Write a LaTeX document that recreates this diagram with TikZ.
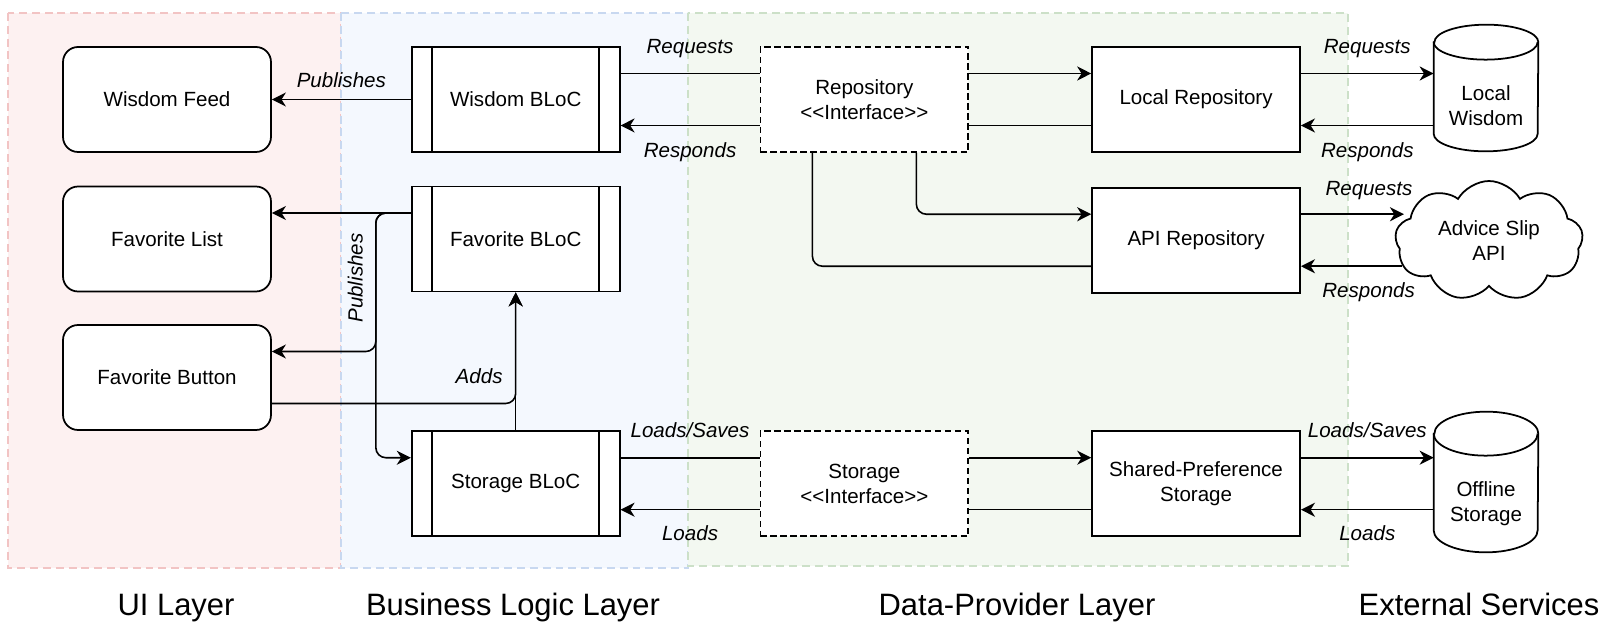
\documentclass[tikz,border=0pt]{standalone}
\usepackage{fontspec}
\setmainfont{Liberation Sans}
\usetikzlibrary{arrows.meta,positioning,shapes.symbols}

\definecolor{uifill}{HTML}{FDF1F1}
\definecolor{uiline}{HTML}{F2C4C4}
\definecolor{blfill}{HTML}{F4F8FE}
\definecolor{blline}{HTML}{C8D8F0}
\definecolor{dpfill}{HTML}{F3F8F1}
\definecolor{dpline}{HTML}{CCE0C8}

\newcommand{\boxfont}{\fontsize{11.7pt}{14.2pt}\selectfont}
\newcommand{\lblfont}{\fontsize{11.7pt}{14.2pt}\selectfont\itshape}
\newcommand{\layerfont}{\fontsize{17.6pt}{21pt}\selectfont}

% cylinder drawn round a (borderless) node: #1 node, #2 half height of the rim
\newcommand{\dbshape}[2]{%
  \draw[line width=1pt] ([yshift=#2]#1.north west) -- ([yshift=#2]#1.south west)
    arc[start angle=180, end angle=360, x radius=1.04cm, y radius=#2]
    -- ([yshift=#2]#1.north east)
    arc[start angle=0, end angle=180, x radius=1.04cm, y radius=#2] -- cycle;
  \draw[line width=1pt] ([yshift=#2]#1.north west)
    arc[start angle=180, end angle=360, x radius=1.04cm, y radius=#2];
}

\begin{document}
\begin{tikzpicture}[x=0.02cm, y=-0.02cm, node distance=2.78cm,
    svcbox/.style={rectangle, draw, line width=1pt, fill=white, minimum width=4.16cm,
      minimum height=2.1cm, align=center, inner sep=2pt, font=\boxfont},
    uinode/.style={svcbox, rounded corners=0.3cm},
    blocnode/.style={svcbox, path picture={
      \draw[line width=1pt] ([xshift=0.41cm]path picture bounding box.north west)
        -- ([xshift=0.41cm]path picture bounding box.south west);
      \draw[line width=1pt] ([xshift=-0.41cm]path picture bounding box.north east)
        -- ([xshift=-0.41cm]path picture bounding box.south east);}},
    ifacenode/.style={svcbox, dash pattern=on 3.5pt off 2.2pt},
    repnode/.style={svcbox},
    dbnode/.style={rectangle, minimum width=2.08cm, inner sep=0pt, align=center, font=\boxfont},
    cloudnode/.style={cloud, draw, line width=1pt, fill=white, cloud puffs=9, cloud puff arc=120,
      aspect=1.5, minimum width=3.76cm, minimum height=2.4cm, inner sep=0pt, align=center, font=\boxfont},
    lbl/.style={font=\lblfont, inner sep=1pt, text height=0.75em, text depth=0.2em},
    layername/.style={font=\layerfont, anchor=base},
    layerbg/.style={line width=0.8pt, dash pattern=on 4.5pt off 2.8pt},
    arr/.style={line width=0.9pt, -{Stealth[length=8pt, width=8pt, inset=2.5pt]}},
    ln/.style={line width=0.9pt}]

    \useasboundingbox (0,0) rectangle (1621,641);

    % layers
    \draw[layerbg, fill=uifill, draw=uiline] (8,13) rectangle (341,568);
    \draw[layerbg, fill=blfill, draw=blline] (341,13) rectangle (688,568);
    \draw[layerbg, fill=dpfill, draw=dpline] (688,13) rectangle (1348,566);

    \node[layername] (uiname) at (176,615) {UI Layer};
    \node[layername] (blname) at (513,615) {Business Logic Layer};
    \node[layername] (dpname) at (1017,615) {Data-Provider Layer};
    \node[layername] (exname) at (1479,615) {External Services};

    % nodes
    \node[uinode] (wfeed) at (167,99.5) {Wisdom Feed};
    \node[uinode] (flist) at (167,239) {Favorite List};
    \node[uinode] (fbtn) at (167,377.5) {Favorite Button};

    \node[blocnode, right=of wfeed] (wbloc) {Wisdom BLoC};
    \node[blocnode, right=of flist] (fbloc) {Favorite BLoC};
    \node[blocnode, below=2.76cm of fbloc] (sbloc) {Storage BLoC};

    \node[ifacenode, right=of wbloc] (repo) {Repository\\<{}<Interface>{}>};
    \node[ifacenode, right=of sbloc] (sif) {Storage\\<{}<Interface>{}>};

    \node[repnode, right=2.44cm of repo] (lrepo) {Local Repository};
    \node[repnode, below=0.68cm of lrepo] (arepo) {API Repository};
    \node[repnode, right=2.44cm of sif] (spref) {Shared-Preference\\Storage};

    \node[dbnode, minimum height=1.82cm] (lwis) at (1486,105.5) {Local\\Wisdom};
    \node[dbnode, minimum height=1.92cm] (offst) at (1486,504) {Offline\\Storage};
    \node[cloudnode] (slip) at (1489,241) {Advice Slip\\API};
    \dbshape{lwis}{0.35cm}
    \dbshape{offst}{0.44cm}

    % ui <-> bloc
    \draw[arr] (wbloc) -- node[lbl, yshift=0.33cm] {Publishes} (wfeed);
    \draw[arr] ([yshift=0.52cm]fbloc.west) -- ([yshift=0.52cm]flist.east);
    \draw[arr, rounded corners=0.2cm] ([yshift=0.52cm]fbloc.west) -- ++(-35,0)
        |- node[lbl, pos=0.235, xshift=-0.36cm, rotate=90] {Publishes} ([yshift=0.52cm]fbtn.east);
    \draw[arr, rounded corners=0.2cm] ([yshift=0.52cm]fbloc.west) -- ++(-35,0)
        |- ([yshift=0.52cm]sbloc.west);
    \draw[arr, rounded corners=0.2cm] ([yshift=-0.52cm]fbtn.east)
        -| node[lbl, pos=0.425, yshift=0.5cm] {Adds} (fbloc.south);
    \draw[arr] (sbloc) -- (fbloc);

    % bloc <-> interfaces
    \draw[ln] ([yshift=0.52cm]wbloc.east) -- node[lbl, yshift=0.5cm] {Requests} ([yshift=0.52cm]repo.west);
    \draw[arr] ([yshift=-0.52cm]repo.west) -- node[lbl, yshift=-0.54cm] {Responds} ([yshift=-0.52cm]wbloc.east);
    \draw[ln] ([yshift=0.52cm]sbloc.east) -- node[lbl, yshift=0.5cm] {Loads/Saves} ([yshift=0.52cm]sif.west);
    \draw[arr] ([yshift=-0.52cm]sif.west) -- node[lbl, yshift=-0.52cm] {Loads} ([yshift=-0.52cm]sbloc.east);

    % interfaces <-> implementations
    \draw[arr] ([yshift=0.52cm]repo.east) -- ([yshift=0.52cm]lrepo.west);
    \draw[ln] ([yshift=-0.52cm]lrepo.west) -- ([yshift=-0.52cm]repo.east);
    \draw[arr, rounded corners=0.2cm] ([xshift=1.04cm]repo.south) |- ([yshift=0.52cm]arepo.west);
    \draw[ln, rounded corners=0.2cm] ([yshift=-0.52cm]arepo.west) -| ([xshift=-1.04cm]repo.south);
    \draw[arr] ([yshift=0.52cm]sif.east) -- ([yshift=0.52cm]spref.west);
    \draw[ln] ([yshift=-0.52cm]spref.west) -- ([yshift=-0.52cm]sif.east);

    % implementations <-> external services
    \draw[arr] ([yshift=0.52cm]lrepo.east) -- node[lbl, yshift=0.5cm] {Requests}
        ([yshift=0.52cm]lrepo.east -| lwis.west);
    \draw[arr] ([yshift=-0.52cm]lrepo.east -| lwis.west) -- node[lbl, yshift=-0.54cm] {Responds}
        ([yshift=-0.52cm]lrepo.east);
    \draw[arr] ([yshift=0.52cm]arepo.east) -- node[lbl, pos=0.66, yshift=0.48cm] {Requests}
        ([xshift=0.18cm, yshift=0.52cm]arepo.east -| slip.west);
    \draw[arr] ([xshift=0.14cm, yshift=-0.52cm]arepo.east -| slip.west) -- node[lbl, pos=0.33, yshift=-0.52cm] {Responds}
        ([yshift=-0.52cm]arepo.east);
    \draw[arr] ([yshift=0.52cm]spref.east) -- node[lbl, yshift=0.5cm] {Loads/Saves}
        ([yshift=0.52cm]spref.east -| offst.west);
    \draw[arr] ([yshift=-0.52cm]spref.east -| offst.west) -- node[lbl, yshift=-0.52cm] {Loads}
        ([yshift=-0.52cm]spref.east);
\end{tikzpicture}
\end{document}
